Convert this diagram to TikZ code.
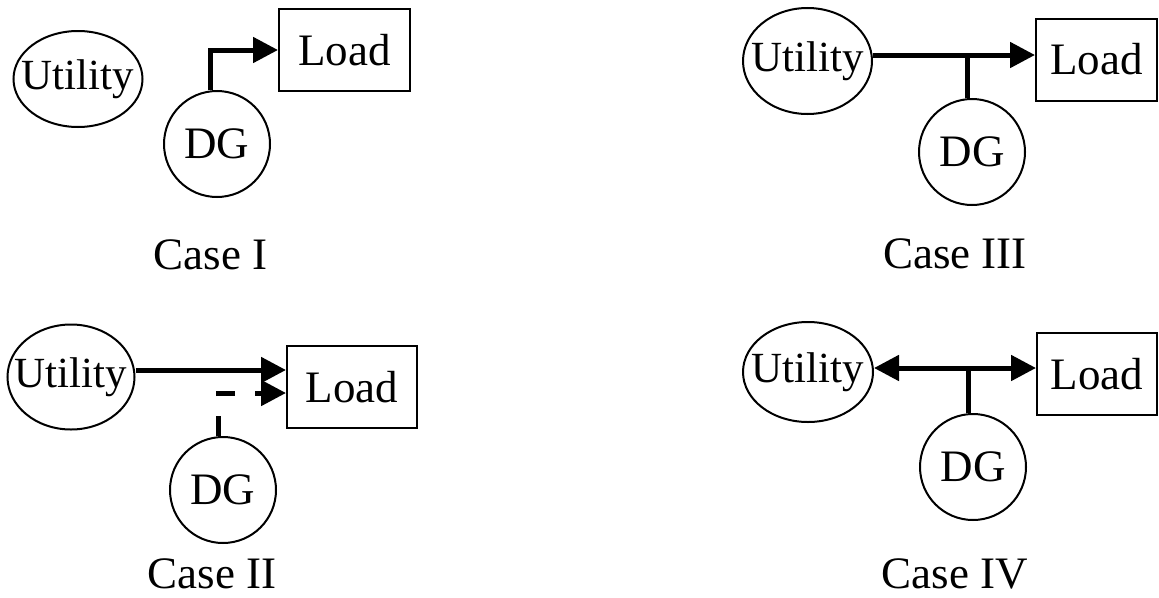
\documentclass[tikz,border=0pt]{standalone}
\usepackage{fontspec}
\setmainfont{Liberation Serif}
\usetikzlibrary{arrows.meta,calc,shapes.geometric}

% text that does not widen the shape it sits in
\newcommand{\zerowidth}[1]{\makebox[0pt]{#1}}

\begin{document}
\begin{tikzpicture}[x=1pt,y=-1pt,
  every node/.style={font=\fontsize{45}{50}\selectfont, inner sep=0pt},
  src/.style={draw, line width=2pt, ellipse, font=\fontsize{43}{48}\selectfont},
  gen/.style={draw, line width=2pt, circle, minimum size=106pt},
  loadbox/.style={draw, line width=2pt, rectangle, minimum height=82pt},
  caption/.style={anchor=base},
  power/.style={line width=5pt, -{Triangle[length=25pt,width=25pt]}},
  bipower/.style={line width=5pt, {Triangle[length=25pt,width=25pt]}-{Triangle[length=25pt,width=25pt]}},
  tie/.style={line width=5pt},
  dashpower/.style={power, dash pattern=on 20pt off 20pt},
]
\useasboundingbox (0,0) rectangle (1159,597);

% ---- Case I: DG alone feeds the load
\node[src, minimum width=129pt, minimum height=96pt] (u1) at (78,79) {\zerowidth{Utility}};
\node[gen] (d1) at (217,144) {\zerowidth{DG}};
\node[loadbox, minimum width=131pt] (l1) at (344.5,50) {Load};
\coordinate (g1) at ([xshift=-7pt]d1.north);
\draw[power] (g1) |- (l1.west);
\node[caption] (c1) at (210.5,269) {Case I};

% ---- Case II: utility feeds the load, DG as standby
\node[src, minimum width=127pt, minimum height=105pt] (u2) at (71,377) {\zerowidth{Utility}};
\node[gen] (d2) at (223,490) {\zerowidth{DG}};
\node[loadbox, minimum width=130pt] (l2) at (352,387) {Load};
\coordinate (s2) at ([yshift=7pt]u2.east);
\coordinate (g2) at ([xshift=-5pt]d2.north);
\coordinate (t2) at ([yshift=-6pt]l2.west);
\draw[power] (s2) -- (s2 -| l2.west);
\draw[dashpower] (g2) |- (t2);
\node[caption] (c2) at (212,588) {Case II};

% ---- Case III: utility and DG together feed the load
\node[src, minimum width=129pt, minimum height=106pt] (u3) at (807.5,61) {\zerowidth{Utility}};
\node[gen] (d3) at (972,152) {\zerowidth{DG}};
\node[loadbox, minimum width=121pt] (l3) at (1096.5,59.5) {Load};
\coordinate (s3) at ([yshift=6pt]u3.east);
\coordinate (g3) at ([xshift=-5pt]d3.north);
\draw[power] (s3) -- (s3 -| l3.west);
\draw[tie] (g3) -- (g3 |- s3);
\node[caption] (c3) at (955,268) {Case III};

% ---- Case IV: DG feeds the load and exports to the utility
\node[src, minimum width=130pt, minimum height=100pt] (u4) at (808,372) {\zerowidth{Utility}};
\node[gen] (d4) at (973,467) {\zerowidth{DG}};
\node[loadbox, minimum width=120pt] (l4) at (1097,374) {Load};
\coordinate (s4) at ([yshift=4pt]u4.east);
\coordinate (g4) at ([xshift=-5pt]d4.north);
\draw[bipower] (s4) -- (s4 -| l4.west);
\draw[tie] (g4) -- (g4 |- s4);
\node[caption] (c4) at (955,588) {Case IV};
\end{tikzpicture}
\end{document}
